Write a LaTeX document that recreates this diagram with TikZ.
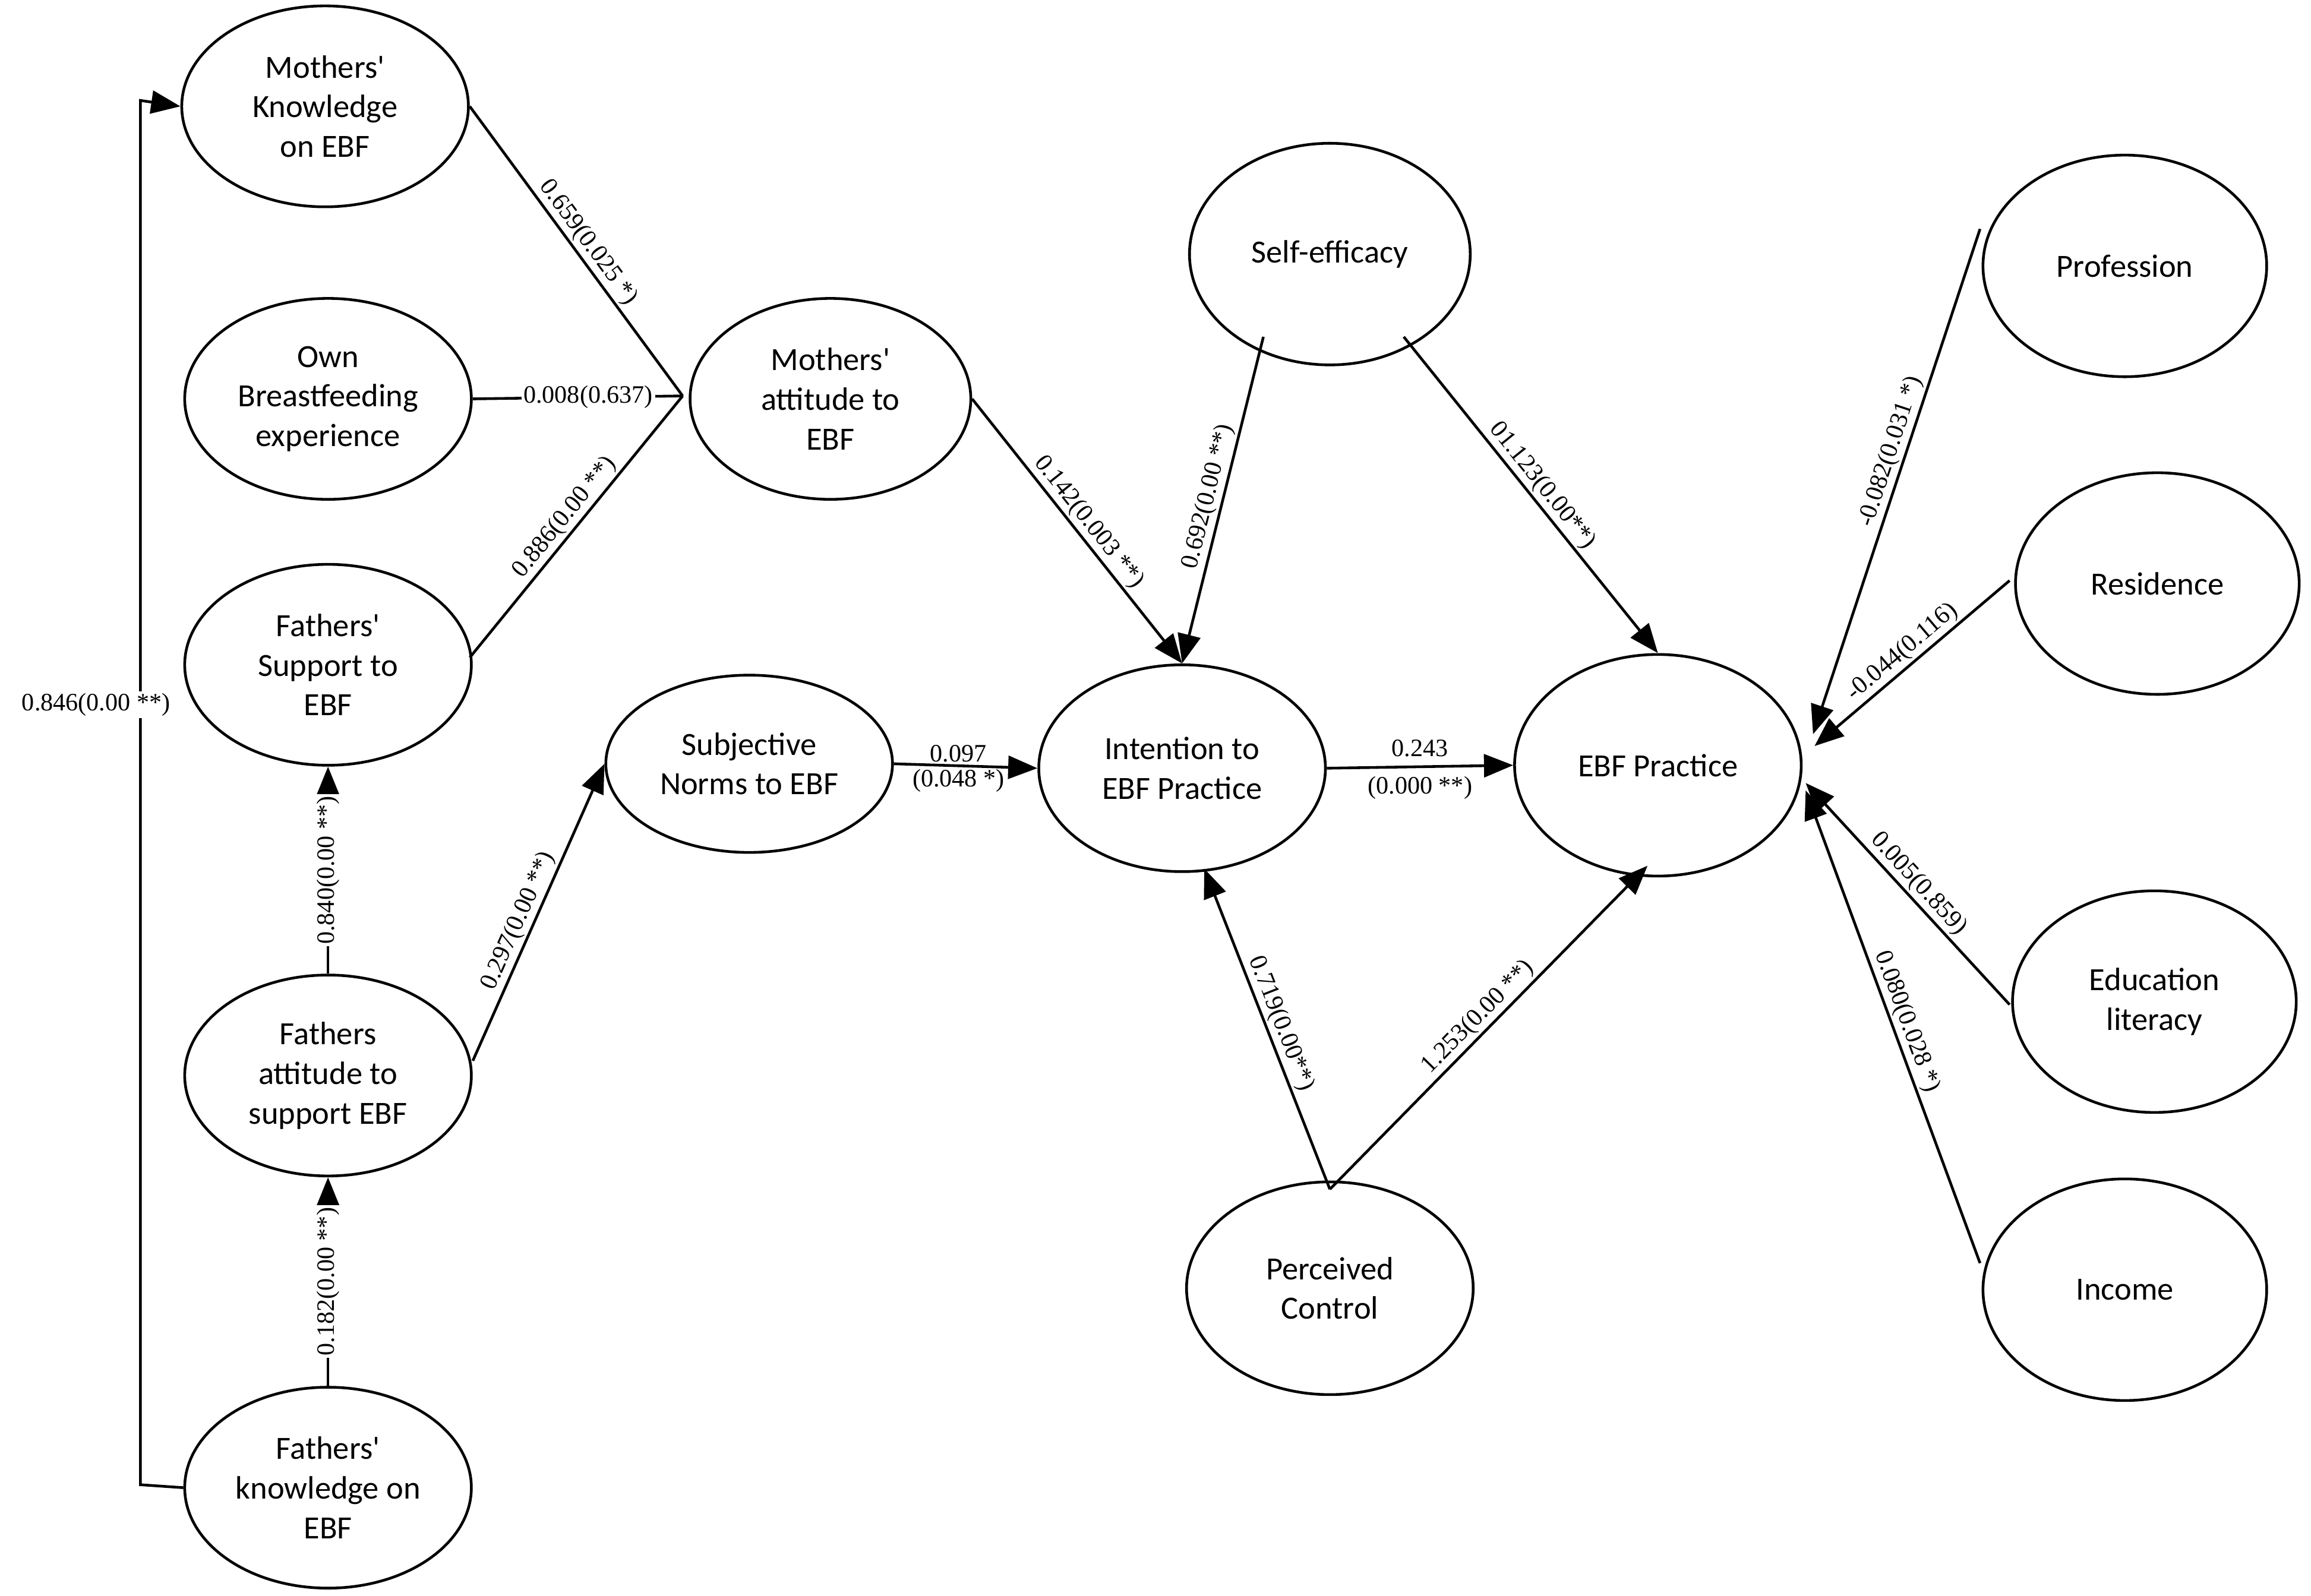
\documentclass[tikz,border=0pt]{standalone}
\usepackage{fontspec}
\setmainfont{Liberation Serif}
\newfontfamily\ellf{Carlito}
\usetikzlibrary{shapes.geometric,arrows.meta}
\begin{document}
\begin{tikzpicture}[x=0.02487cm,y=-0.02487cm,
 el/.style={ellipse,draw,line width=1.3pt,align=center,font=\ellf\fontsize{15.5}{19}\selectfont,inner sep=0pt},
 ln/.style={line width=1.3pt},
 ar/.style={line width=1.3pt,-{Triangle[length=14pt,width=11pt]}},
 lb/.style={font=\fontsize{12}{14}\selectfont,inner sep=1pt}]
\useasboundingbox (0,0) rectangle (1564,1080);
\def\E(#1,#2,#3,#4,#5){\node[el,minimum width=#4*0.02487cm*2,minimum height=#5*0.02487cm*2] (#1) at (#2,#3)}
\E(mk,220,72,97,68) {Mothers'\\Knowledge\\on EBF};
\E(own,222,270,97,68) {Own\\Breastfeeding\\experience};
\E(fs,222,450,97,68) {Fathers'\\Support to\\EBF};
\E(fa,222,728,97,68) {Fathers\\attitude to\\support EBF};
\E(fk,222,1007,97,68) {Fathers'\\knowledge on\\EBF};
\E(ma,562,270,95,68) {Mothers'\\attitude to\\EBF};
\E(sn,507,517,97,60) {Subjective\\Norms to EBF};
\E(in,800,520,97,70) {Intention to\\EBF Practice};
\E(se,900,172,95,75) {Self-efficacy};
\E(ebf,1122,518,97,75) {EBF Practice};
\E(pc,900,872,97,72) {Perceived\\Control};
\E(pr,1438,180,96,75) {Profession};
\E(re,1460,395,96,75) {Residence};
\E(ed,1458,678,96,75) {Education\\literacy};
\E(inc,1438,873,96,75) {Income};
\coordinate (j) at (462,268);
\draw[ln] (mk.east) -- node[lb,sloped,above,pos=0.5]{0.659(0.025 *)} (j);
\draw[ln] (own.east) -- node[lb,pos=0.55,fill=white]{0.008(0.637)} (j);
\draw[ln] (318,445) -- node[lb,sloped,above,pos=0.5]{0.886(0.00 **)} (j);
\draw[ar] (fa.north) -- node[lb,sloped,fill=white,pos=0.5]{0.840(0.00 **)} (fs.south);
\draw[ar] (fk.north) -- node[lb,sloped,fill=white,pos=0.5]{0.182(0.00 **)} (fa.south);
\draw[ar] (320,718) -- node[lb,sloped,above,pos=0.45]{0.297(0.00 **)} (sn.west);
\coordinate (l1) at (95,1005); \coordinate (l2) at (95,68);
\draw[ar] (fk.west) -- (l1) -- (l2) -- (mk.west);
\node[lb,fill=white] (lab846) at (65,477) {0.846(0.00 **)};
\draw[ar] (ma.east) -- node[lb,sloped,above,pos=0.5]{0.142(0.003 **)} (in.north);
\draw[ar] (855,228) -- node[lb,sloped,above,pos=0.5]{0.692(0.00 **)} (in.north);
\draw[ar] (950,228) -- node[lb,sloped,above,pos=0.5]{01.123(0.00**)} (ebf.north);
\draw[ar] (sn.east) -- node[lb,above,pos=0.45]{0.097} node[lb,below,pos=0.45]{(0.048 *)} (in.west);
\draw[ar] (in.east) -- node[lb,above=3pt,pos=0.5]{0.243} node[lb,below=3pt,pos=0.5]{(0.000 **)} (ebf.west);
\coordinate (pt) at (900,805);
\draw[ar] (pt) -- node[lb,sloped,above,pos=0.5]{0.719(0.00**)} (815,588);
\draw[ar] (pt) -- node[lb,sloped,above,pos=0.5]{1.253(0.00 **)} (1115,586);
\draw[ar] (1340,155) -- node[lb,sloped,above,pos=0.45]{-0.082(0.031 *)} (1227,497);
\draw[ar] (1360,393) -- node[lb,sloped,above,pos=0.5]{-0.044(0.116)} (1228,505);
\draw[ar] (1360,680) -- node[lb,sloped,above,pos=0.5]{0.005(0.859)} (1222,530);
\draw[ar] (1340,855) -- node[lb,sloped,above,pos=0.5]{0.080(0.028 *)} (1222,535);
\end{tikzpicture}
\end{document}
